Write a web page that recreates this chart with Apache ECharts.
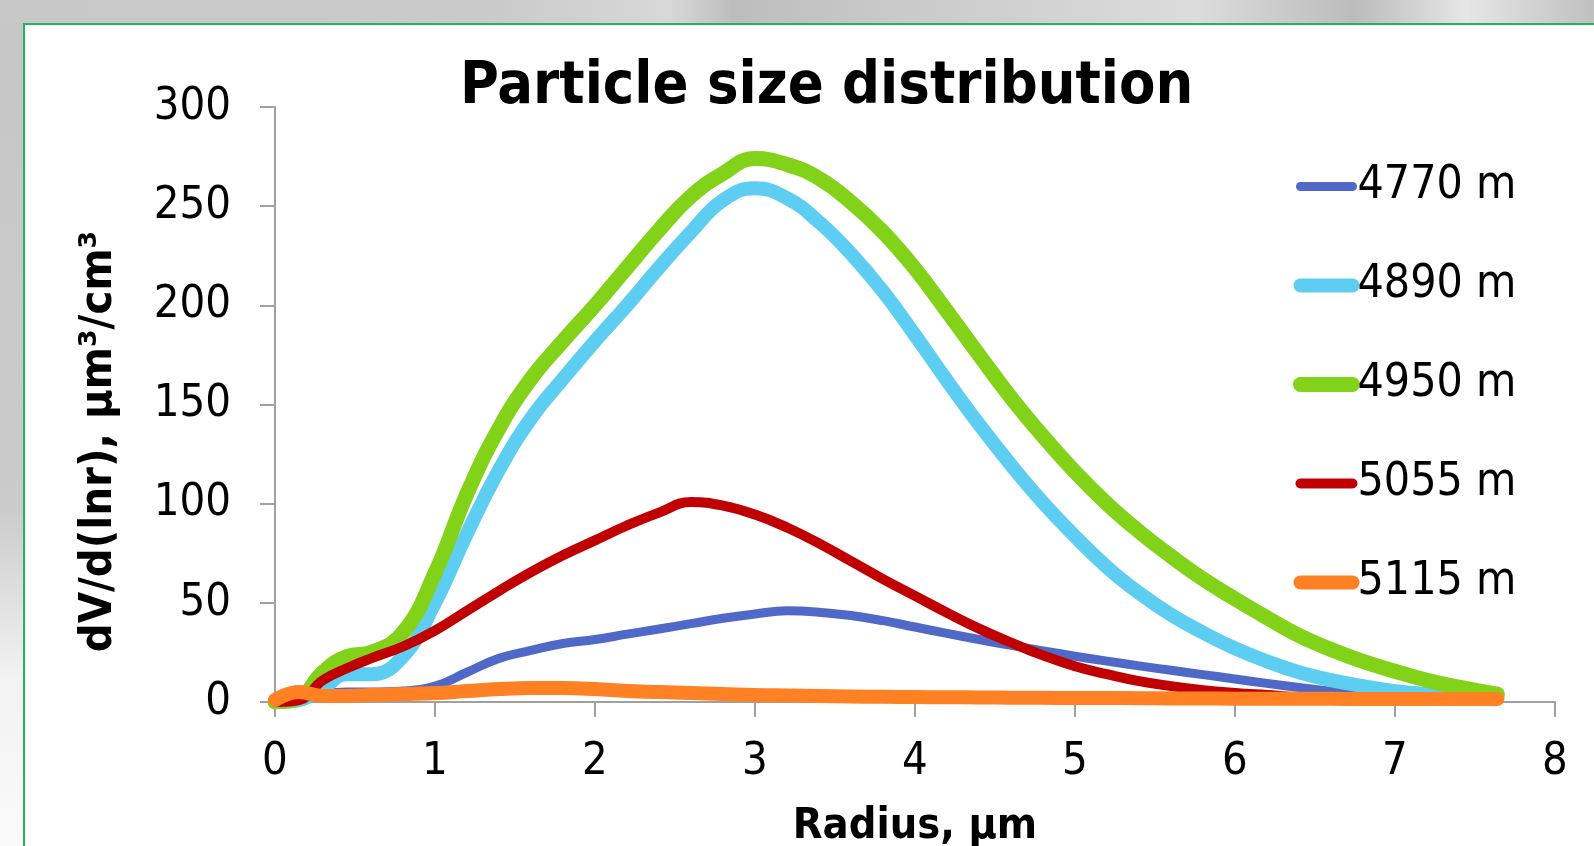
<!DOCTYPE html>
<html>
<head>
<meta charset="utf-8">
<script src="https://cdn.jsdelivr.net/npm/echarts@6/dist/echarts.min.js"></script>
<style>
  html, body { margin: 0; padding: 0; width: 1594px; height: 846px; overflow: hidden; }
  body { background: linear-gradient(180deg, #c6c6c6 0%, #cbcbcb 60%, #f2f2f2 80%, #fafafa 100%); position: relative; }
  #topstrip { position: absolute; left: 0; top: 0; width: 1594px; height: 24px;
    background: linear-gradient(90deg, #c8c8c8 0%, #c9c9c9 30%, #d8d8d8 42%, #bdbdbd 46%, #c8c8c8 55%, #dcdcdc 75%, #bcbcbc 85%, #e6e6e6 92%, #c0c0c0 100%); }
  #panel { position: absolute; left: 23px; top: 23px; width: 1580px; height: 840px; background: #ffffff;
    border-left: 2px solid #1fb75a; border-top: 2px solid #1fb75a; }
  #chart { position: absolute; left: 0; top: 0; width: 1594px; height: 846px; }
</style>
</head>
<body>
<div id="topstrip"></div>
<div id="panel"></div>
<div id="chart"></div>
<script>
// ---- data ----
const radius = [0, 0.15, 0.3, 0.45, 0.6, 0.8, 1.0, 1.2, 1.4, 1.6, 1.8, 2.0, 2.2, 2.4, 2.6, 2.8, 3.0, 3.2, 3.4, 3.6, 3.8, 4.0, 4.2, 4.4, 4.6, 4.8, 5.0, 5.2, 5.4, 5.6, 5.8, 6.0, 6.2, 6.4, 6.6, 6.8, 7.0, 7.2, 7.4, 7.64];

const seriesNames = ['4770 m', '4890 m', '4950 m', '5055 m', '5115 m'];

const v4770 = [0, 1, 4, 5, 5, 5.5, 8, 15, 22, 26, 29.5, 31.5, 34.2, 36.8, 39.5, 42.2, 44.4, 46, 45.3, 43.6, 41, 37.8, 34.6, 31.5, 28.6, 25.8, 23.1, 20.6, 18.2, 16, 13.8, 11.6, 9.4, 7.3, 5.4, 3.8, 2.6, 1.9, 1.4, 1];
const v4890 = [0, 1, 7, 14, 14, 23, 50, 85, 117, 143, 163, 182, 200, 219, 237, 253, 259, 254, 242, 226, 207, 185, 162, 140, 119.5, 100.5, 83.5, 68, 55, 44, 35, 27, 20.5, 15, 11, 8, 5.5, 4, 3, 2];
const v4950 = [0, 2, 15, 23, 25, 35, 65, 105, 138, 163, 182, 200, 219, 238, 255, 266.5, 274, 271, 264, 252, 237, 218.5, 197, 175, 153.5, 134, 116, 100, 86, 73.5, 62, 52, 42.5, 33.5, 26.5, 20.5, 15.5, 11, 7.5, 4];
const v5055 = [0, 1, 11, 17, 22, 28, 36, 46, 56, 65.5, 74, 81.5, 89, 95.5, 100.8, 99, 94.5, 88, 80, 71, 62, 53.5, 45, 37, 30, 23.5, 18, 14, 10.5, 8, 6, 4.5, 3.5, 2.5, 2, 1.5, 1, 1, 1, 1];
const v5115 = [1, 5, 3, 3, 3.5, 4, 4.5, 5.5, 6.5, 7, 7, 6.5, 5.5, 5, 4.5, 4, 3.5, 3.3, 3, 2.8, 2.6, 2.5, 2.4, 2.3, 2.2, 2.1, 2, 2, 1.9, 1.8, 1.8, 1.7, 1.7, 1.6, 1.6, 1.5, 1.5, 1.5, 1.5, 1.5];

const xTicks = [0, 1, 2, 3, 4, 5, 6, 7, 8];
const yTicks = [0, 50, 100, 150, 200, 250, 300];

const seriesValues = [v4770, v4890, v4950, v5055, v5115];
const seriesColors = ['#5068c8', '#5ecdf2', '#82d21a', '#c00000', '#ff8124'];
const seriesWidths = [9, 14, 15, 10, 14];

const FONT = '"DejaVu Sans Condensed", "DejaVu Sans", sans-serif';

const chart = echarts.init(document.getElementById('chart'), null, { renderer: 'canvas' });

const series = seriesNames.map((name, k) => ({
  name: name,
  type: 'line',
  smooth: 0.45,
  showSymbol: false,
  symbol: 'none',
  data: radius.map((r, i) => [r, seriesValues[k][i]]),
  lineStyle: { color: seriesColors[k], width: seriesWidths[k], cap: 'round', join: 'round' },
  itemStyle: { color: seriesColors[k] },
  emphasis: { disabled: true }
}));

chart.setOption({
  animation: false,
  backgroundColor: 'transparent',
  title: {
    text: 'Particle size distribution',
    left: 460,
    top: 58,
    padding: 0,
    textStyle: { fontFamily: FONT, fontWeight: 'bold', fontSize: 59, color: '#000' }
  },
  legend: {
    orient: 'vertical',
    left: 1288,
    top: 157,
    itemWidth: 52,
    itemHeight: 20,
    itemGap: 50,
    itemStyle: { opacity: 0 },
    lineStyle: { width: 'inherit', cap: 'round' },
    textStyle: { fontFamily: FONT, fontSize: 46, color: '#000', lineHeight: 49 },
    data: seriesNames
  },
  grid: { left: 275, right: 39, top: 107, bottom: 144, containLabel: false, outerBoundsMode: 'none' },
  xAxis: {
    type: 'value',
    min: xTicks[0],
    max: xTicks[xTicks.length - 1],
    interval: xTicks[1] - xTicks[0],
    name: 'Radius, μm',
    nameLocation: 'middle',
    nameGap: 103,
    nameTextStyle: { fontFamily: FONT, fontWeight: 'bold', fontSize: 43, color: '#000' },
    axisLine: { lineStyle: { color: '#a0a0a0', width: 2 } },
    axisTick: { show: true, inside: false, length: 15, lineStyle: { color: '#a0a0a0', width: 2 } },
    axisLabel: { margin: 38, fontFamily: FONT, fontSize: 45, color: '#000' },
    splitLine: { show: false }
  },
  yAxis: {
    type: 'value',
    min: yTicks[0],
    max: yTicks[yTicks.length - 1],
    interval: yTicks[1] - yTicks[0],
    name: 'dV/d(lnr), μm³/cm³',
    nameLocation: 'middle',
    nameGap: 153,
    nameTextStyle: { fontFamily: FONT, fontWeight: 'bold', fontSize: 45, color: '#000', padding: [0, 74, 0, 0] },
    axisLine: { show: true, lineStyle: { color: '#a0a0a0', width: 2 } },
    axisTick: { show: true, inside: false, length: 15, lineStyle: { color: '#a0a0a0', width: 2 } },
    axisLabel: { margin: 44, fontFamily: FONT, fontSize: 45, color: '#000' },
    splitLine: { show: false }
  },
  series: series
});
</script>
</body>
</html>
